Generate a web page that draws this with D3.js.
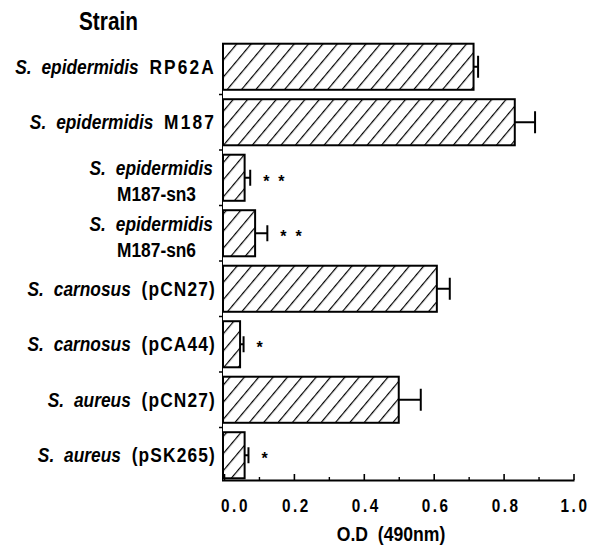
<!DOCTYPE html>
<html>
<head>
<meta charset="utf-8">
<script src="https://cdn.jsdelivr.net/npm/d3@7"></script>
<style>
  body { margin: 0; background: #fff; }
  svg { display: block; }
  text { font-family: "Liberation Sans", Arial, Helvetica, sans-serif; font-weight: bold; fill: #000; }
</style>
</head>
<body>
<div id="chart"></div>
<script>
(() => {
  const width = 590;
  const height = 557;

  // strains (genus abbrev. + species in italics, then strain id)
  const species = ["epidermidis", "epidermidis", "epidermidis", "epidermidis",
                   "carnosus", "carnosus", "aureus", "aureus"];
  const strainIds = ["RP62A", "M187", "M187-sn3", "M187-sn6",
                     "(pCN27)", "(pCA44)", "(pCN27)", "(pSK265)"];
  const odValues = [0.714, 0.832, 0.059, 0.089, 0.609, 0.046, 0.500, 0.059];
  const odErrors = [0.013, 0.058, 0.016, 0.035, 0.037, 0.010, 0.063, 0.011];
  const signif = ["", "", "**", "**", "", "*", "", "*"];
  const xTicks = [0, 0.2, 0.4, 0.6, 0.8, 1.0];
  const xMinorTicks = [0.1, 0.3, 0.5, 0.7, 0.9];

  const data = strainIds.map((id, i) => ({
    key: i,
    species: species[i],
    id,
    value: odValues[i],
    err: odErrors[i],
    star: signif[i],
    twoLine: id.includes("-sn")
  }));

  const x = d3.scaleLinear().domain([0, 1]).range([224, 573.5]);
  const y = d3.scaleBand()
    .domain(data.map(d => d.key))
    .range([39, 483])
    .paddingInner(0.17)
    .paddingOuter(0.085);
  const axisY = 480;

  const svg = d3.select("#chart")
    .append("svg")
    .attr("width", width)
    .attr("height", height)
    .attr("viewBox", `0 0 ${width} ${height}`);

  // hatch fill
  svg.append("defs")
    .append("pattern")
    .attr("id", "hatch")
    .attr("patternUnits", "userSpaceOnUse")
    .attr("width", 11)
    .attr("height", 11)
    .attr("patternTransform", "rotate(40)")
    .append("line")
    .attr("x1", 0).attr("y1", 0)
    .attr("x2", 0).attr("y2", 11)
    .attr("stroke", "#000")
    .attr("stroke-width", 2.4);

  // left axis line with ticks at category boundaries
  const left = svg.append("g").attr("stroke", "#000");
  left.append("line")
    .attr("x1", x(0) - 1.5).attr("x2", x(0) - 1.5)
    .attr("y1", y(0)).attr("y2", axisY)
    .attr("stroke-width", 1);
  const gap = (y.step() - y.bandwidth()) / 2;
  left.selectAll(".sep")
    .data(data.slice(0, -1))
    .join("line")
    .attr("x1", x(0) - 5).attr("x2", x(0) - 1.5)
    .attr("y1", d => y(d.key) + y.bandwidth() + gap)
    .attr("y2", d => y(d.key) + y.bandwidth() + gap)
    .attr("stroke-width", 1.5);

  // bars
  svg.append("g")
    .selectAll("rect")
    .data(data)
    .join("rect")
    .attr("x", x(0) - 1)
    .attr("y", d => y(d.key))
    .attr("width", d => x(d.value) - x(0) + 1)
    .attr("height", y.bandwidth())
    .attr("fill", "url(#hatch)")
    .attr("stroke", "#000")
    .attr("stroke-width", 2);

  // error bars
  const eb = svg.append("g").attr("stroke", "#000").attr("stroke-width", 2);
  eb.selectAll(".stem")
    .data(data)
    .join("line")
    .attr("x1", d => x(d.value))
    .attr("x2", d => x(d.value + d.err))
    .attr("y1", d => y(d.key) + y.bandwidth() / 2)
    .attr("y2", d => y(d.key) + y.bandwidth() / 2);
  eb.selectAll(".cap")
    .data(data)
    .join("line")
    .attr("x1", d => x(d.value + d.err))
    .attr("x2", d => x(d.value + d.err))
    .attr("y1", d => y(d.key) + y.bandwidth() / 2 - (d.value < 0.2 ? 8 : 11))
    .attr("y2", d => y(d.key) + y.bandwidth() / 2 + (d.value < 0.2 ? 8 : 11));

  // significance stars
  svg.append("g")
    .selectAll("text")
    .data(data.filter(d => d.star))
    .join("text")
    .attr("x", d => x(d.value + d.err) + 13)
    .attr("y", d => y(d.key) + y.bandwidth() / 2 + 9)
    .attr("font-size", 16)
    .style("white-space", "pre")
    .text(d => d.star.split("").join("  "));

  // category labels (condensed by horizontal scale)
  const sx = 0.825;
  const labels = svg.append("g").attr("font-size", 21);
  data.forEach(d => {
    const cy = y(d.key) + y.bandwidth() / 2;
    if (!d.twoLine) {
      const t = labels.append("g")
        .attr("transform", `translate(216,${cy + 7}) scale(${sx},1)`)
        .append("text")
        .attr("text-anchor", "end");
      t.append("tspan").attr("font-style", "italic").text("S.");
      t.append("tspan").attr("font-style", "italic").attr("dx", 12).text(d.species);
      t.append("tspan")
        .attr("dx", 13)
        .attr("letter-spacing", d.id.startsWith("(") ? 1.4 : 2.6)
        .text(d.id);
    } else {
      const t1 = labels.append("g")
        .attr("transform", `translate(213,${cy - 2.5}) scale(${sx},1)`)
        .append("text")
        .attr("text-anchor", "end");
      t1.append("tspan").attr("font-style", "italic").text("S.");
      t1.append("tspan").attr("font-style", "italic").attr("dx", 12).text(d.species);
      labels.append("g")
        .attr("transform", `translate(196,${cy + 23.5}) scale(${sx},1)`)
        .append("text")
        .attr("text-anchor", "end")
        .text(d.id);
    }
  });

  // "Strain" header
  svg.append("g")
    .attr("transform", "translate(79,30) scale(0.8,1)")
    .append("text")
    .attr("font-size", 26)
    .text("Strain");

  // x axis, ticks pointing up
  const xAxis = svg.append("g")
    .attr("transform", `translate(0,${axisY})`)
    .call(d3.axisBottom(x)
      .tickValues(xTicks)
      .tickSize(-6)
      .tickSizeOuter(0)
      .tickPadding(19)
      .tickFormat(d3.format(".1f")));
  xAxis.select(".domain")
    .attr("d", `M${x(0) - 2},0.5H${x(1) + 1}`)
    .attr("stroke-width", 2);
  xAxis.selectAll(".tick line").attr("stroke-width", 1.6);
  xAxis.selectAll(".tick text")
    .attr("font-size", 18)
    .attr("font-family", "'Liberation Sans', Arial, sans-serif")
    .attr("font-weight", "bold")
    .attr("letter-spacing", 3)
    .attr("transform", d => `translate(${d === 0 ? 11 : d === 1 ? 1 : 2},0) scale(0.85,1)`);

  svg.append("g")
    .attr("transform", `translate(0,${axisY})`)
    .call(d3.axisBottom(x)
      .tickValues(xMinorTicks)
      .tickSize(-3)
      .tickSizeOuter(0)
      .tickFormat(""))
    .call(g => g.select(".domain").remove())
    .selectAll(".tick line").attr("stroke-width", 1.4);

  // axis title
  svg.append("g")
    .attr("transform", `translate(391,541) scale(0.88,1)`)
    .append("text")
    .attr("text-anchor", "middle")
    .attr("font-size", 20)
    .style("white-space", "pre")
    .text("O.D  (490nm)");
})();
</script>
</body>
</html>
